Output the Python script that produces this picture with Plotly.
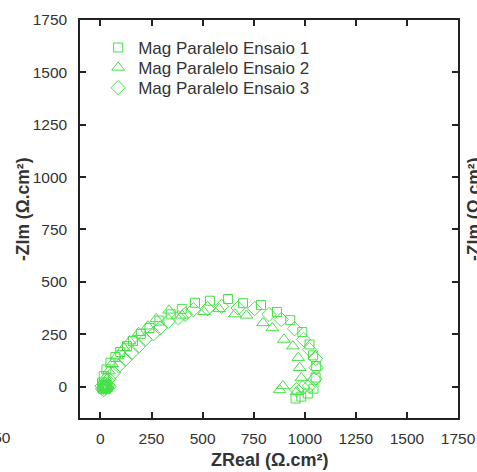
import plotly.graph_objects as go

# Series 1: squares
x1 = [10, 14, 18, 22, 25, 30, 35, 8, 16, 29, 49, 73, 97, 130, 159, 198, 240, 289, 344, 398, 463, 536, 625, 698, 786, 864, 929, 988, 1023, 1040, 1056, 1053, 1043, 1015, 983, 955]
y1 = [5, -5, -12, 2, 0, -6, 4, 19, 50, 82, 114, 141, 165, 193, 217, 252, 280, 315, 345, 371, 400, 410, 418, 398, 389, 356, 317, 260, 201, 149, 98, 43, -10, -33, -48, -57]
# Series 2: triangles
x2 = [12, 15, 20, 22, 28, 30, 38, 24, 41, 57, 81, 114, 143, 187, 232, 273, 336, 400, 507, 581, 658, 715, 796, 841, 898, 942, 968, 975, 983, 960, 893, 877]
y2 = [0, -12, -18, 5, -10, -5, 2, 43, 74, 109, 146, 185, 217, 257, 288, 323, 364, 340, 357, 371, 346, 340, 304, 280, 225, 193, 138, 90, 41, -25, 3, -16]
# Series 3: diamonds
x3 = [8, 10, 16, 20, 26, 35, 42, 24, 41, 65, 89, 122, 154, 187, 219, 260, 292, 333, 382, 415, 455, 524, 593, 674, 755, 825, 885, 950, 994, 1023, 1053, 1056, 1048, 1023, 991, 960]
y3 = [3, -10, -15, 2, -4, 8, 0, 11, 35, 66, 98, 130, 162, 193, 225, 252, 280, 312, 328, 345, 367, 372, 383, 375, 372, 344, 320, 276, 225, 177, 133, 90, 35, 3, -5, -15]

names = ["Mag Paralelo Ensaio 1", "Mag Paralelo Ensaio 2", "Mag Paralelo Ensaio 3"]
tick_vals = [0, 250, 500, 750, 1000, 1250, 1500, 1750]
tick_text = ["0", "250", "500", "750", "1000", "1250", "1500", "1750"]

FONT = "Liberation Sans, Arial"
TXT = "#333"
green = "rgb(70,225,70)"
fig = go.Figure()
legend_ids = ["legend", "legend2", "legend3"]
for xs, ys, sym, sz, nm, lg in [(x1, y1, "square-open", 9, names[0], legend_ids[0]),
                                (x2, y2, "triangle-up-open", 11, names[1], legend_ids[1]),
                                (x3, y3, "diamond-open", 11, names[2], legend_ids[2])]:
    fig.add_trace(go.Scatter(x=xs, y=ys, mode="markers", name=nm, legend=lg,
                             marker=dict(symbol=sym, size=sz, color=green,
                                         line=dict(color=green, width=1))))

axis_common = dict(showline=True, linecolor="#222", linewidth=1.5, mirror="ticks",
                   ticks="inside", ticklen=6, tickwidth=1.5, tickcolor="#222",
                   showgrid=False, zeroline=False, tickvals=tick_vals, ticktext=tick_text,
                   automargin=False,
                   tickfont=dict(family=FONT, size=15.5, color=TXT))

legend_common = dict(x=0.048, xanchor="left", yanchor="top", bgcolor="rgba(0,0,0,0)",
                     itemsizing="trace", font=dict(family=FONT, size=17, color=TXT))

fig.update_layout(
    width=477, height=472,
    margin=dict(l=80, r=19, t=20, b=54, autoexpand=False),
    paper_bgcolor="white", plot_bgcolor="white",
    showlegend=True,
    legend=dict(y=0.975, **legend_common),
    legend2=dict(y=0.925, **legend_common),
    legend3=dict(y=0.874, **legend_common),
    xaxis=dict(range=[-100, 1750], ticklabelstandoff=6, **axis_common),
    yaxis=dict(range=[-150, 1750], ticklabelstandoff=8, **axis_common),
)

# axis titles
fig.add_annotation(xref="paper", yref="paper", x=0.5, y=-(460 - 418) / 398,
                   xanchor="center", yanchor="middle", text="<b>ZReal (Ω.cm²)</b>", showarrow=False,
                   font=dict(family=FONT, size=18, color=TXT))
fig.add_annotation(xref="paper", yref="paper", x=(23 - 80) / 378, y=(418 - 210) / 398,
                   xanchor="center", yanchor="middle", text="<b>-ZIm (Ω.cm²)</b>", textangle=-90,
                   showarrow=False, font=dict(family=FONT, size=17.5, color=TXT))

# fragments of neighbouring panels clipped at the image edges
fig.add_annotation(xref="paper", yref="paper", x=(13 - 80) / 378, y=-(437 - 418) / 398,
                   xanchor="right", yanchor="middle", text="1750", showarrow=False,
                   font=dict(family=FONT, size=15.5, color=TXT))
fig.add_annotation(xref="paper", yref="paper", x=(474 - 80) / 378, y=(418 - 210) / 398,
                   xanchor="center", yanchor="middle", text="<b>-ZIm (Ω.cm²)</b>", textangle=-90,
                   showarrow=False, font=dict(family=FONT, size=17.5, color=TXT))

fig.write_html("out.html", config={"displayModeBar": False},
               post_script="document.body.style.margin='0';document.body.style.overflow='hidden';")
